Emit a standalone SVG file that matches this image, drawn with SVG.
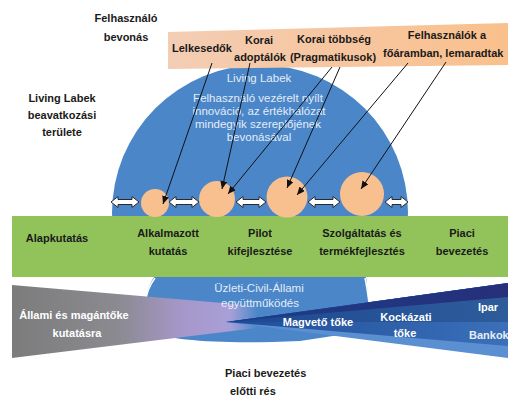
<svg xmlns="http://www.w3.org/2000/svg" width="508" height="396" viewBox="0 0 508 396">
<defs>
<style>
.lbl{font-family:"Liberation Sans",Arial,sans-serif;font-weight:bold;font-size:11px;fill:#1a1a1a;text-anchor:middle}
.inner{font-family:"Liberation Sans",Arial,sans-serif;font-size:11.5px;fill:#e3edf8;text-anchor:middle}
.wt{font-family:"Liberation Sans",Arial,sans-serif;font-weight:bold;font-size:11px;fill:#ffffff;text-anchor:middle}
.peach{fill:#f9c08f}
.dbl{fill:#ffffff;stroke:#2a2a2a;stroke-width:1}
.con{stroke:#111;stroke-width:1;fill:none;marker-end:url(#ah)}
</style>
<marker id="ah" markerUnits="userSpaceOnUse" markerWidth="8" markerHeight="7" refX="8" refY="3.5" orient="auto">
<path d="M0,0 L8,3.5 L0,7 z" fill="#111"/>
</marker>
<clipPath id="topClip"><rect x="0" y="0" width="508" height="277"/></clipPath>
<linearGradient id="gBanner" x1="168" y1="0" x2="508" y2="0" gradientUnits="userSpaceOnUse">
<stop offset="0" stop-color="#f3cdb4"/><stop offset="0.5" stop-color="#f7c6a0"/><stop offset="1" stop-color="#f9c08c"/>
</linearGradient>
<linearGradient id="gPurple" x1="12" y1="0" x2="363" y2="0" gradientUnits="userSpaceOnUse">
<stop offset="0" stop-color="#7c7c7c"/><stop offset="0.3" stop-color="#8b8a90"/><stop offset="0.48" stop-color="#a597c8"/><stop offset="0.62" stop-color="#a99fd8"/><stop offset="0.7" stop-color="#a9a6dd" stop-opacity="0"/><stop offset="1" stop-color="#a9a6dd" stop-opacity="0"/>
</linearGradient>
<linearGradient id="gD" x1="226" y1="0" x2="508" y2="0" gradientUnits="userSpaceOnUse">
<stop offset="0" stop-color="#1c3e88"/><stop offset="1" stop-color="#262f7a"/>
</linearGradient>
<linearGradient id="gC" x1="226" y1="0" x2="508" y2="0" gradientUnits="userSpaceOnUse">
<stop offset="0" stop-color="#1d4893"/><stop offset="1" stop-color="#2e5c9a"/>
</linearGradient>
<linearGradient id="gB" x1="226" y1="0" x2="508" y2="0" gradientUnits="userSpaceOnUse">
<stop offset="0" stop-color="#1f4c98"/><stop offset="1" stop-color="#3b70b9"/>
</linearGradient>
</defs>
<rect width="508" height="396" fill="#ffffff"/>

<g id="living-lab-circle">
<circle cx="260" cy="213" r="148" fill="#4a86c8" clip-path="url(#topClip)"/>
<text class="inner" x="259" y="82" fill="#d5e3f4">Living Labek</text>
<text class="inner" x="258" y="102">Felhasználó vezérelt nyílt</text>
<text class="inner" x="259" y="115">innováció, az értékhálózat</text>
<text class="inner" x="258" y="128">mindegyik szereplőjének</text>
<text class="inner" x="259" y="141">bevonásával</text>
</g>

<g id="cooperation-blob">
<path d="M154 277 C149 285 146 293 146 301 L146 330 C170 342 230 344 300 341 L372 330 L369 303 C368 294 367 285 366 277 Z" fill="#4a86c8"/>
<path d="M155 278 C149 286 146 294 146 302 M365 278 C367 287 368 295 369 303" stroke="#ffffff" stroke-width="1.5" fill="none"/>
</g>

<g id="stage-band">
<rect x="12" y="216" width="496" height="61" fill="#92c35a"/>
<text class="lbl" x="57" y="242">Alapkutatás</text>
<text class="lbl" x="168" y="237">Alkalmazott</text>
<text class="lbl" x="168" y="255">kutatás</text>
<text class="lbl" x="260" y="237">Pilot</text>
<text class="lbl" x="260" y="255">kifejlesztése</text>
<text class="lbl" x="362" y="237">Szolgáltatás és</text>
<text class="lbl" x="362" y="255">termékfejlesztés</text>
<text class="lbl" x="462" y="237">Piaci</text>
<text class="lbl" x="462" y="255">bevezetés</text>
</g>

<g id="user-banner">
<polygon points="168,32 508,23 508,65 168,69" fill="url(#gBanner)"/>
<text class="lbl" x="202" y="52">Lelkesedők</text>
<text class="lbl" x="259" y="44">Korai</text>
<text class="lbl" x="260" y="61">adoptálók</text>
<text class="lbl" x="334" y="43">Korai többség</text>
<text class="lbl" x="333" y="61">(Pragmatikusok)</text>
<text class="lbl" x="447" y="39">Felhasználók a</text>
<text class="lbl" x="383" y="57" style="text-anchor:start">főáramban, lemaradtak</text>
</g>

<g id="labels-left">
<text class="lbl" x="126" y="22">Felhasználó</text>
<text class="lbl" x="126" y="41">bevonás</text>
<text class="lbl" x="62" y="102">Living Labek</text>
<text class="lbl" x="62" y="119">beavatkozási</text>
<text class="lbl" x="62" y="136">területe</text>
</g>

<g id="adoption-circles">
<circle id="c1" class="peach" cx="155" cy="203" r="14"/>
<circle id="c2" class="peach" cx="217" cy="199" r="18"/>
<circle id="c3" class="peach" cx="287" cy="197" r="20.5"/>
<circle id="c4" class="peach" cx="362" cy="194" r="22"/>
</g>

<g id="double-arrows">
<path class="dbl" d="M111 202 L118 196.5 L118 199.5 L132 199.5 L132 196.5 L139 202 L132 207.5 L132 204.5 L118 204.5 L118 207.5 Z"/>
<path class="dbl" d="M169 202 L176 196.5 L176 199.5 L192 199.5 L192 196.5 L199 202 L192 207.5 L192 204.5 L176 204.5 L176 207.5 Z"/>
<path class="dbl" d="M236 202 L243 196.5 L243 199.5 L259 199.5 L259 196.5 L266 202 L259 207.5 L259 204.5 L243 204.5 L243 207.5 Z"/>
<path class="dbl" d="M308 202 L315 196.5 L315 199.5 L333 199.5 L333 196.5 L340 202 L333 207.5 L333 204.5 L315 204.5 L315 207.5 Z"/>
<path class="dbl" d="M385 202 L392 196.5 L392 199.5 L401 199.5 L401 196.5 L408 202 L401 207.5 L401 204.5 L392 204.5 L392 207.5 Z"/>
</g>

<g id="connectors">
<line class="con" x1="212" y1="63" x2="163" y2="204"/>
<line class="con" x1="250" y1="63" x2="222" y2="189"/>
<line class="con" x1="332" y1="67" x2="228" y2="194"/>
<line class="con" x1="340" y1="67" x2="287" y2="188"/>
<line class="con" x1="408" y1="63" x2="297" y2="195"/>
<line class="con" x1="446" y1="62" x2="361" y2="189"/>
</g>

<g id="funding-public">
<polygon points="12,285 363,315 12,358" fill="url(#gPurple)"/>
<text class="wt" x="74" y="319">Állami és magántőke</text>
<text class="wt" x="77" y="337">kutatásra</text>
</g>

<g id="funding-private">
<polygon points="226,322 508,283 508,358" fill="#5a8fd2"/>
<polygon points="226,322 508,283 508,346" fill="url(#gB)"/>
<polygon points="226,322 508,283 508,322" fill="url(#gC)"/>
<polygon points="226,322 508,283 508,297" fill="url(#gD)"/>
<text class="wt" x="318" y="326">Magvető tőke</text>
<text class="wt" x="406" y="321">Kockázati</text>
<text class="wt" x="405" y="337">tőke</text>
<text class="wt" x="488" y="311" fill="#e6edf7">Ipar</text>
<text class="wt" x="469" y="339" style="text-anchor:start;fill:#e6edf7">Bankok</text>
</g>

<g id="cooperation-label">
<text class="inner" x="259" y="292" font-size="12">Üzleti-Civil-Állami</text>
<text class="inner" x="260" y="307" font-size="12">együttműködés</text>
</g>

<g id="gap-label">
<text class="lbl" x="225" y="377" style="text-anchor:start">Piaci bevezetés</text>
<text class="lbl" x="230" y="395" style="text-anchor:start">előtti rés</text>
</g>
</svg>
